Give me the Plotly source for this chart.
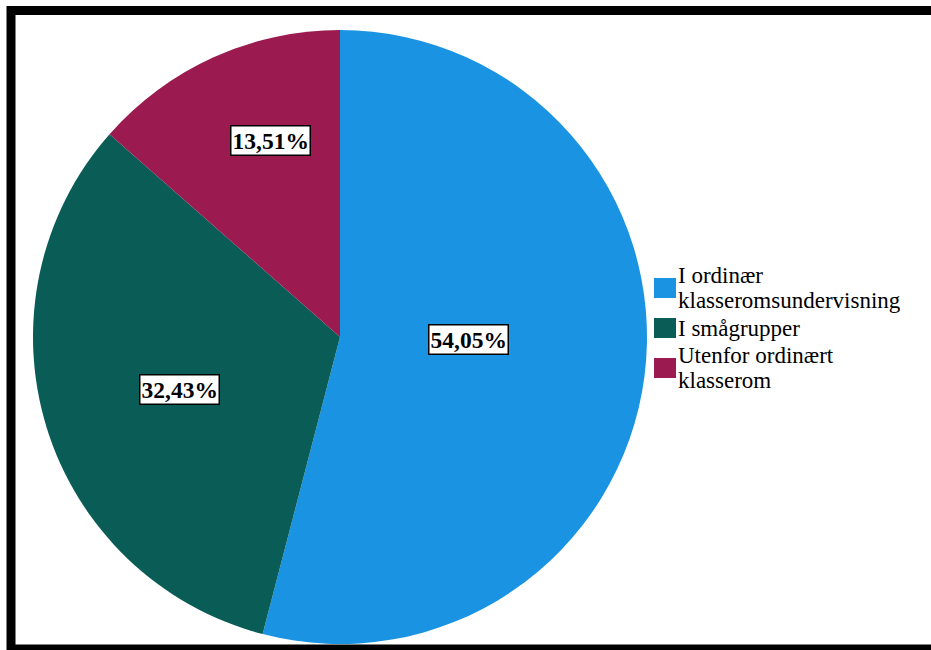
import math
import plotly.graph_objects as go

# ---- data ----
categories = ["I ordinær<br>klasseromsundervisning", "I smågrupper", "Utenfor ordinært<br>klasserom"]
counts = [20, 12, 5]
colors = ["#1A93E3", "#0A5C57", "#9B1A4F"]

# ---- layout constants ----
W, H = 931, 650
CX, CY, R = 340, 337, 307          # pie centre / radius in pixels
LABEL_RFRAC = [0.42, 0.55, 0.68]   # radial placement of value labels
LABEL_ASHIFT = [-6.4, -1.0, 5.0]   # small angular shift (deg) of value labels
FONT = "Liberation Serif"

LEG_SQ_X0, LEG_SQ_W, LEG_SQ_H = 654, 22, 20
LEG_Y0, LEG_STEP, LEG_LINE = 288, 40, 25.5
LEG_TEXT_X = 677
LEG_FONT = 23


def px(x):
    return x / W


def py(y):
    return (H - y) / H


fig = go.Figure()
fig.add_trace(go.Pie(
    labels=categories,
    values=counts,
    marker=dict(colors=colors, line=dict(width=0)),
    sort=False,
    direction="clockwise",
    rotation=0,
    textinfo="none",
    hoverinfo="label+percent",
    showlegend=False,
    domain=dict(x=[px(CX - R), px(CX + R)], y=[py(CY + R), py(CY - R)]),
))

annotations = []
shapes = []

# value labels (computed from the data)
total = sum(counts)
cum = 0
for i, v in enumerate(counts):
    frac = v / total
    mid = (cum + frac / 2) * 360 + LABEL_ASHIFT[i]
    cum += frac
    rr = LABEL_RFRAC[i] * R
    lx = CX + rr * math.sin(math.radians(mid))
    ly = CY - rr * math.cos(math.radians(mid))
    pct = f"{frac * 100:.2f}".replace(".", ",") + "%"
    annotations.append(dict(
        x=px(lx), y=py(ly), xref="paper", yref="paper",
        text=f"<b>{pct}</b>", showarrow=False,
        font=dict(family=FONT, size=23.5, color="black"),
        bgcolor="white", bordercolor="black", borderwidth=1.5, borderpad=1,
        xanchor="center", yanchor="middle",
    ))

# legend
for i, (lab, col) in enumerate(zip(categories, colors)):
    cy = LEG_Y0 + i * LEG_STEP
    shapes.append(dict(
        type="rect", xref="paper", yref="paper",
        x0=px(LEG_SQ_X0), x1=px(LEG_SQ_X0 + LEG_SQ_W),
        y0=py(cy - LEG_SQ_H / 2), y1=py(cy + LEG_SQ_H / 2),
        fillcolor=col, line=dict(width=0),
    ))
    lines = lab.split("<br>")
    n = len(lines)
    for j, t in enumerate(lines):
        ly = cy + (j - (n - 1) / 2) * LEG_LINE
        annotations.append(dict(
            x=px(LEG_TEXT_X), y=py(ly), xref="paper", yref="paper",
            text=t, showarrow=False,
            font=dict(family=FONT, size=LEG_FONT, color="black"),
            xanchor="left", yanchor="middle", borderpad=0,
        ))

# outer frame
shapes.append(dict(
    type="rect", xref="paper", yref="paper",
    x0=px(11), x1=px(W + 20), y0=py(649), y1=py(10.5),
    line=dict(color="black", width=9), fillcolor="rgba(0,0,0,0)",
))

fig.update_layout(
    width=W, height=H,
    margin=dict(l=0, r=0, t=0, b=0),
    paper_bgcolor="white", plot_bgcolor="white",
    font=dict(family=FONT),
    annotations=annotations, shapes=shapes,
    showlegend=False,
)

fig.write_html("out.html")
